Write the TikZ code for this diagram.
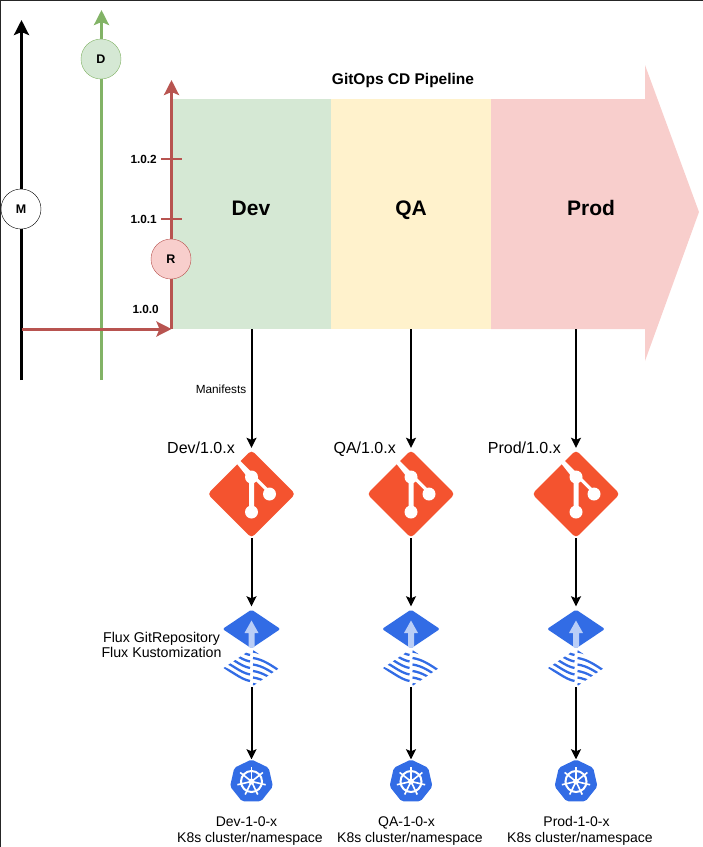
\documentclass[tikz,border=0pt]{standalone}
\usepackage{fontspec}
\setmainfont{Liberation Sans}
\usetikzlibrary{arrows.meta, positioning, shapes.geometric}
\definecolor{greenfill}{HTML}{D5E8D4}
\definecolor{greenline}{HTML}{82B366}
\definecolor{yellowfill}{HTML}{FFF2CC}
\definecolor{redfill}{HTML}{F8CECC}
\definecolor{redline}{HTML}{B85450}
\definecolor{gitred}{HTML}{F4532F}
\definecolor{kubeblue}{HTML}{326CE5}
\definecolor{arrowpale}{HTML}{BACEF7}

\begin{document}
\begin{tikzpicture}[
        x=1pt, y=-1pt,
        phase/.style={
            minimum width=#1,
            minimum height=230pt,
            inner sep=0pt,
            outer sep=0pt
        },
        phasename/.style={
            font=\bfseries\fontsize{21}{24}\selectfont,
            anchor=base,
            inner sep=0pt
        },
        branch/.style={
            line width=3pt,
            -{Stealth[width=15pt,length=15pt,inset=3pt]}
        },
        badge/.style={
            circle,
            draw,
            minimum size=40pt,
            inner sep=0pt,
            font=\bfseries\fontsize{12.5}{14}\selectfont
        },
        version/.style={
            font=\bfseries\fontsize{11.8}{13}\selectfont,
            anchor=east,
            inner sep=0pt
        },
        link/.style={
            line width=2pt,
            -{Stealth[width=10pt,length=10pt,inset=2pt]}
        },
        plainlabel/.style={
            font=\fontsize{#1}{#1}\selectfont,
            inner sep=0pt,
            anchor=base
        },
        gitmark/.style={
            diamond,
            fill=gitred,
            minimum width=88pt,
            minimum height=88pt,
            inner sep=0pt,
            rounded corners=4pt
        },
        fluxmark/.style={
            diamond,
            fill=kubeblue,
            minimum width=58pt,
            minimum height=39pt,
            inner sep=0pt,
            rounded corners=2pt
        },
        wavemark/.style={
            minimum width=56pt,
            minimum height=38pt,
            inner sep=0pt
        },
        kubemark/.style={
            regular polygon,
            regular polygon sides=7,
            fill=kubeblue,
            minimum size=44pt,
            inner sep=0pt,
            rounded corners=2pt
        }
    ]
    \useasboundingbox (0,0) rectangle (703,847);

    % pipeline stages
    \fill[redfill] (491,99) -- (645,99) -- (645,65) -- (699,212) -- (645,361) -- (645,329) -- (491,329) -- cycle;
    \node[phase=159pt, fill=greenfill] (dev) at (251.5,214) {};
    \node[phase=160pt, fill=yellowfill, right=0pt of dev] (qa) {};
    \node[phasename] (devname) at (251,215.5) {Dev};
    \node[phasename] (qaname) at (411,215.5) {QA};
    \node[phasename] (prodname) at (591,215.5) {Prod};
    \node[font=\bfseries\fontsize{15.5}{18}\selectfont] (pipeline) at (403,80) {GitOps CD Pipeline};
    \coordinate (devfoot) at (dev.south);
    \coordinate (qafoot) at (qa.south);
    \coordinate (prodfoot) at (576,329);

    % branch lines
    \coordinate (mainfoot) at (21.5,380);
    \coordinate (maintip) at (21.5,20);
    \coordinate (devfootline) at (101.5,380);
    \coordinate (devtip) at (101.5,10);
    \coordinate (mainfork) at (21.5,329);
    \coordinate (relfork) at (171.5,329);
    \coordinate (reltip) at (171.5,80);
    \draw[branch] (mainfoot) -- (maintip);
    \draw[branch, greenline] (devfootline) -- (devtip);
    \draw[branch, redline] (relfork) -- (reltip);
    \draw[branch, redline] (mainfork) -- (relfork);

    % version ticks
    \foreach \ver/\y in {1.0.2/159, 1.0.1/219} {
        \draw[redline, line width=2pt] (161,\y) -- (181.5,\y);
        \node[version] at (157,\y) {\ver};
    }
    \node[version] (base) at (159,309.5) {1.0.0};

    \node[badge, fill=white] (m) at (21,209) {M};
    \node[badge, fill=greenfill, draw=greenline] (d) at (101,59) {D};
    \node[badge, fill=redfill, draw=redline] (r) at (171,259) {R};

    % one column per environment
    \foreach \name/\label/\x/\lx/\tagx in {dev/Dev/251.5/250/235, qa/QA/411/410/396, prod/Prod/576/580/561} {
        \node[gitmark] (git\name) at (\x,494) {};
        \fill[white] (\x-16,462) -- (\x-13,459) -- (\x+1,473) -- (\x+19,491) -- (\x+17,493.5) -- (\x+2.5,479) -- (\x+2.5,512) -- (\x-2.5,512) -- (\x-2.5,479) -- cycle;
        \foreach \dx/\dy in {0/477, 18/494, 0/512}
            \fill[white] (\x+\dx,\dy) circle (6.5pt);

        \node[fluxmark] (flux\name) at (\x,629) {};
        \fill[arrowpale] (\x,620.5) -- (\x+7,633) -- (\x+3,633) -- (\x+3,647) -- (\x-3,647) -- (\x-3,633) -- (\x-7,633) -- cycle;

        \node[wavemark] (wave\name) at (\x,668) {};
        \begin{scope}
            \clip (\x-28,668) -- (\x,649) -- (\x+28,668) -- (\x,687) -- cycle;
            \foreach \o in {-39,-32.5,...,46} {
                \draw[kubeblue, line width=2.3pt] (\x-32,653+\o) .. controls (\x-20,657+\o) and (\x-12,666+\o) .. (\x-1.5,668+\o);
                \draw[kubeblue, line width=2.3pt] (\x+1.5,664.5+\o) .. controls (\x+12,666+\o) and (\x+20,672+\o) .. (\x+32,680+\o);
            }
        \end{scope}

        \node[kubemark] (kube\name) at (\x,781.5) {};
        \draw[white, line width=2pt] (\x,781.5) circle (10.5pt);
        \fill[white] (\x,781.5) circle (3pt);
        \foreach \a in {90,141.4,...,400}
            \draw[white, line width=1.6pt] (\x,781.5) -- ++(\a:14.5pt);

        \draw[link, shorten >=2pt] (\name foot) -- (git\name.north);
        \draw[link, shorten >=3pt] (git\name.south) -- (flux\name.north);
        \draw[link] (wave\name.south) -- (kube\name.north);

        \node[plainlabel=16, anchor=base east] (tag\name) at (\tagx,453.5) {\label/1.0.x};
        \node[plainlabel=14] (env\name) at (\lx-3.5,826.5) {\label-1-0-x};
        \node[plainlabel=14] (scope\name) at (\lx,842.5) {K8s cluster/namespace};
    }

    \node[plainlabel=11.8] (manifests) at (221,393) {Manifests};
    \node[plainlabel=14.2] (fluxgit) at (161.5,642.5) {Flux GitRepository};
    \node[plainlabel=14.2] (fluxkust) at (161.5,657.5) {Flux Kustomization};

    \draw[line width=1pt, black!85] (0,0) rectangle (703,847);
\end{tikzpicture}
\end{document}
